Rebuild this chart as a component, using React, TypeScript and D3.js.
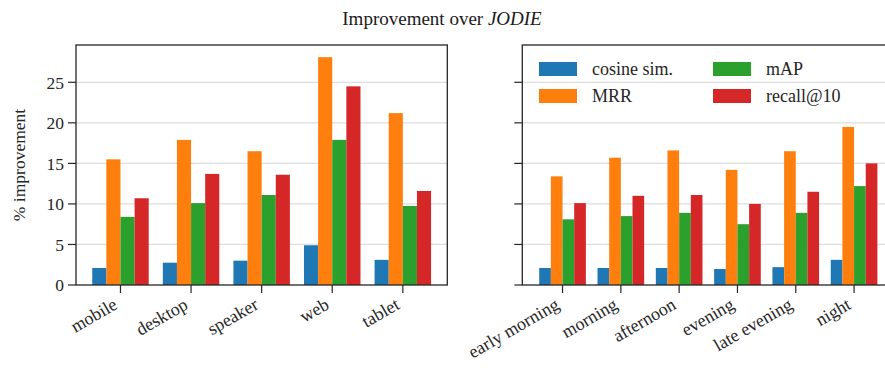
import React from 'react';
import * as d3 from 'd3';

// device split
const deviceCats = ['mobile', 'desktop', 'speaker', 'web', 'tablet'];
const deviceCosine = [2.1, 2.75, 3.0, 4.9, 3.1];
const deviceMRR = [15.5, 17.9, 16.5, 28.1, 21.2];
const deviceMAP = [8.4, 10.1, 11.1, 17.9, 9.75];
const deviceRecall = [10.7, 13.7, 13.6, 24.5, 11.6];

// time-of-day split
const timeCats = ['early morning', 'morning', 'afternoon', 'evening', 'late evening', 'night'];
const timeCosine = [2.1, 2.1, 2.1, 1.97, 2.2, 3.1];
const timeMRR = [13.4, 15.7, 16.6, 14.2, 16.5, 19.5];
const timeMAP = [8.1, 8.5, 8.9, 7.5, 8.9, 12.2];
const timeRecall = [10.1, 11.0, 11.1, 10.0, 11.5, 15.0];

const seriesNames = ['cosine sim.', 'MRR', 'mAP', 'recall@10'];
const colors = ['#1f77b4', '#ff7f0e', '#2ca02c', '#d62728'];
const yTicks = [0, 5, 10, 15, 20, 25];

const W = 885;
const H = 371;
const FONT = '"Liberation Serif", "DejaVu Serif", serif';
const top = 45;
const bottom = 285;
const ink = '#262626';

const y = d3.scaleLinear().domain([0, 29.6]).range([bottom, top]);

interface PanelProps {
  cats: string[];
  series: number[][];
  left: number;
  right: number;
  pad: number;
  showYLabels: boolean;
}

const Panel: React.FC<PanelProps> = ({ cats, series, left, right, pad, showYLabels }) => {
  const x = d3.scaleLinear().domain([-pad, cats.length - 1 + pad]).range([left, right]);
  const bw = 0.2;
  return (
    <g>
      {yTicks.slice(1).map(t => (
        <line key={t} x1={left} x2={right} y1={y(t)} y2={y(t)} stroke="#dddddd" strokeWidth={1.2} />
      ))}
      {series.map((vals, k) =>
        vals.map((v, i) => (
          <rect
            key={`${k}-${i}`}
            x={x(i - 0.4 + k * bw)}
            width={x(bw) - x(0)}
            y={y(v)}
            height={y(0) - y(v)}
            fill={colors[k]}
          />
        ))
      )}
      {/* box */}
      <rect x={left} y={top} width={right - left} height={bottom - top} fill="none" stroke={ink} strokeWidth={1.3} />
      {yTicks.map(t => (
        <g key={t}>
          <line x1={left - 8} x2={left} y1={y(t)} y2={y(t)} stroke={ink} strokeWidth={1.2} />
          {showYLabels && (
            <text x={left - 12} y={y(t)} dy="0.36em" textAnchor="end" fontSize={17.5} fontFamily={FONT} fill={ink}>
              {t}
            </text>
          )}
        </g>
      ))}
      {cats.map((c, i) => (
        <g key={c}>
          <line x1={x(i)} x2={x(i)} y1={bottom} y2={bottom + 8} stroke={ink} strokeWidth={1.2} />
          <text
            transform={`translate(${x(i) - 2},${bottom + 23}) rotate(-30)`}
            textAnchor="end"
            fontSize={18}
            fontFamily={FONT}
            fill={ink}
          >
            {c}
          </text>
        </g>
      ))}
    </g>
  );
};

const App: React.FC = () => {
  const legendPos = [
    { x: 539, y: 62 },
    { x: 539, y: 89 },
    { x: 713, y: 62 },
    { x: 713, y: 89 }
  ];
  return (
    <div style={{ position: 'absolute', left: 0, top: 0 }}>
      <svg width={W} height={H} style={{ display: 'block' }}>
        <rect width={W} height={H} fill="#ffffff" />
        <text x={442} y={25} textAnchor="middle" fontSize={19} fontFamily={FONT} fill="#1a1a1a">
          Improvement over <tspan fontStyle="italic">JODIE</tspan>
        </text>
        <text
          transform={`translate(25,${(top + bottom) / 2}) rotate(-90)`}
          textAnchor="middle"
          fontSize={17.5}
          fontFamily={FONT}
          fill={ink}
        >
          % improvement
        </text>
        <Panel
          cats={deviceCats}
          series={[deviceCosine, deviceMRR, deviceMAP, deviceRecall]}
          left={76}
          right={447.3}
          pad={0.63}
          showYLabels={true}
        />
        <Panel
          cats={timeCats}
          series={[timeCosine, timeMRR, timeMAP, timeRecall]}
          left={522.3}
          right={894.3}
          pad={0.69}
          showYLabels={false}
        />
        {seriesNames.map((s, k) => (
          <g key={s}>
            <rect x={legendPos[k].x} y={legendPos[k].y} width={38} height={14} fill={colors[k]} />
            <text x={legendPos[k].x + 53} y={legendPos[k].y + 7} dy="0.36em" fontSize={18} fontFamily={FONT} fill={ink}>
              {s}
            </text>
          </g>
        ))}
      </svg>
    </div>
  );
};

export default App;
